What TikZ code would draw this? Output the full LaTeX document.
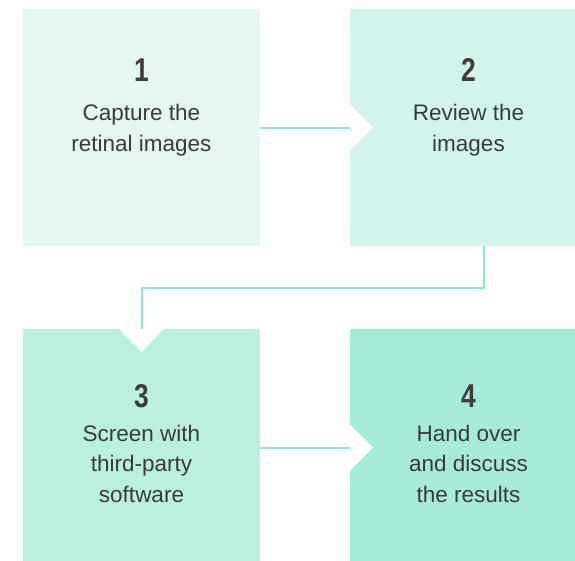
\documentclass[tikz,border=0pt]{standalone}
\usepackage{fontspec}
\setmainfont{Liberation Sans}
\newfontfamily\numfont[FakeStretch=0.8]{Liberation Sans}
\usetikzlibrary{positioning}

\definecolor{stepone}{HTML}{E4F7F1}
\definecolor{steptwo}{HTML}{D3F4EC}
\definecolor{stepthree}{HTML}{BBF0E1}
\definecolor{stepfour}{HTML}{A6EBD9}
\definecolor{linkcolor}{HTML}{8FE0DF}
\definecolor{numcolor}{HTML}{403C39}
\definecolor{txtcolor}{HTML}{3A3A3A}

\tikzset{
  stepbox/.style={rectangle, minimum width=237pt, minimum height=237pt, inner sep=0pt, outer sep=0pt},
  notch/.style={fill=white},
  link/.style={draw=linkcolor, line width=2pt},
  num/.style={font=\numfont\bfseries\fontsize{33}{33}\selectfont, text=numcolor, inner sep=0pt},
  txt/.style={font=\fontsize{22.5}{30.5}\selectfont, text=txtcolor, align=center, inner sep=0pt, anchor=base}
}

\begin{document}
\begin{tikzpicture}[x=1pt, y=-1pt, node distance=90pt]

        \useasboundingbox (0,0) rectangle (575,560);
        \clip (0,0) rectangle (575,560);

        % capture
        \node[stepbox, fill=stepone] (box1) at (141.5,127.5) {};

        % review
        \node[stepbox, fill=steptwo] (box2) [right = of box1] {};

        % screen
        \node[stepbox, fill=stepthree] (box3) [below = 83pt of box1] {};

        % hand over
        \node[stepbox, fill=stepfour] (box4) [right = of box3] {};

        % notches
        \fill[notch] ([yshift=23pt]box2.west) -- ([xshift=23pt]box2.west) -- ([yshift=-23pt]box2.west) -- cycle;
        \fill[notch] ([xshift=-22pt]box3.north) -- ([yshift=-23pt]box3.north) -- ([xshift=22pt]box3.north) -- cycle;
        \fill[notch] ([yshift=23pt]box4.west) -- ([xshift=23pt]box4.west) -- ([yshift=-23pt]box4.west) -- cycle;

        % paths
        \draw[link] (box1) -- (box2);
        \draw[link] ([xshift=15.5pt]box2.south) |- ([yshift=41pt]box3.north) -- (box3.north);
        \draw[link] (box3) -- (box4);

        % texts (base is the last line)
        \node[num] (num1) at ([yshift=-61pt]box1.north) {1};
        \node[txt] (txt1) at ([yshift=-142pt]box1.north) {Capture the\\retinal images};
        \node[num] (num2) at (box2 |- num1) {2};
        \node[txt] (txt2) at (box2 |- txt1.base) {Review the\\images};

        \node[num] (num3) at ([yshift=-67pt]box3.north) {3};
        \node[txt] (txt3) at ([yshift=-173pt]box3.north) {Screen with\\third-party\\software};
        \node[num] (num4) at (box4 |- num3) {4};
        \node[txt] (txt4) at (box4 |- txt3.base) {Hand over\\and discuss\\the results};

\end{tikzpicture}
\end{document}
